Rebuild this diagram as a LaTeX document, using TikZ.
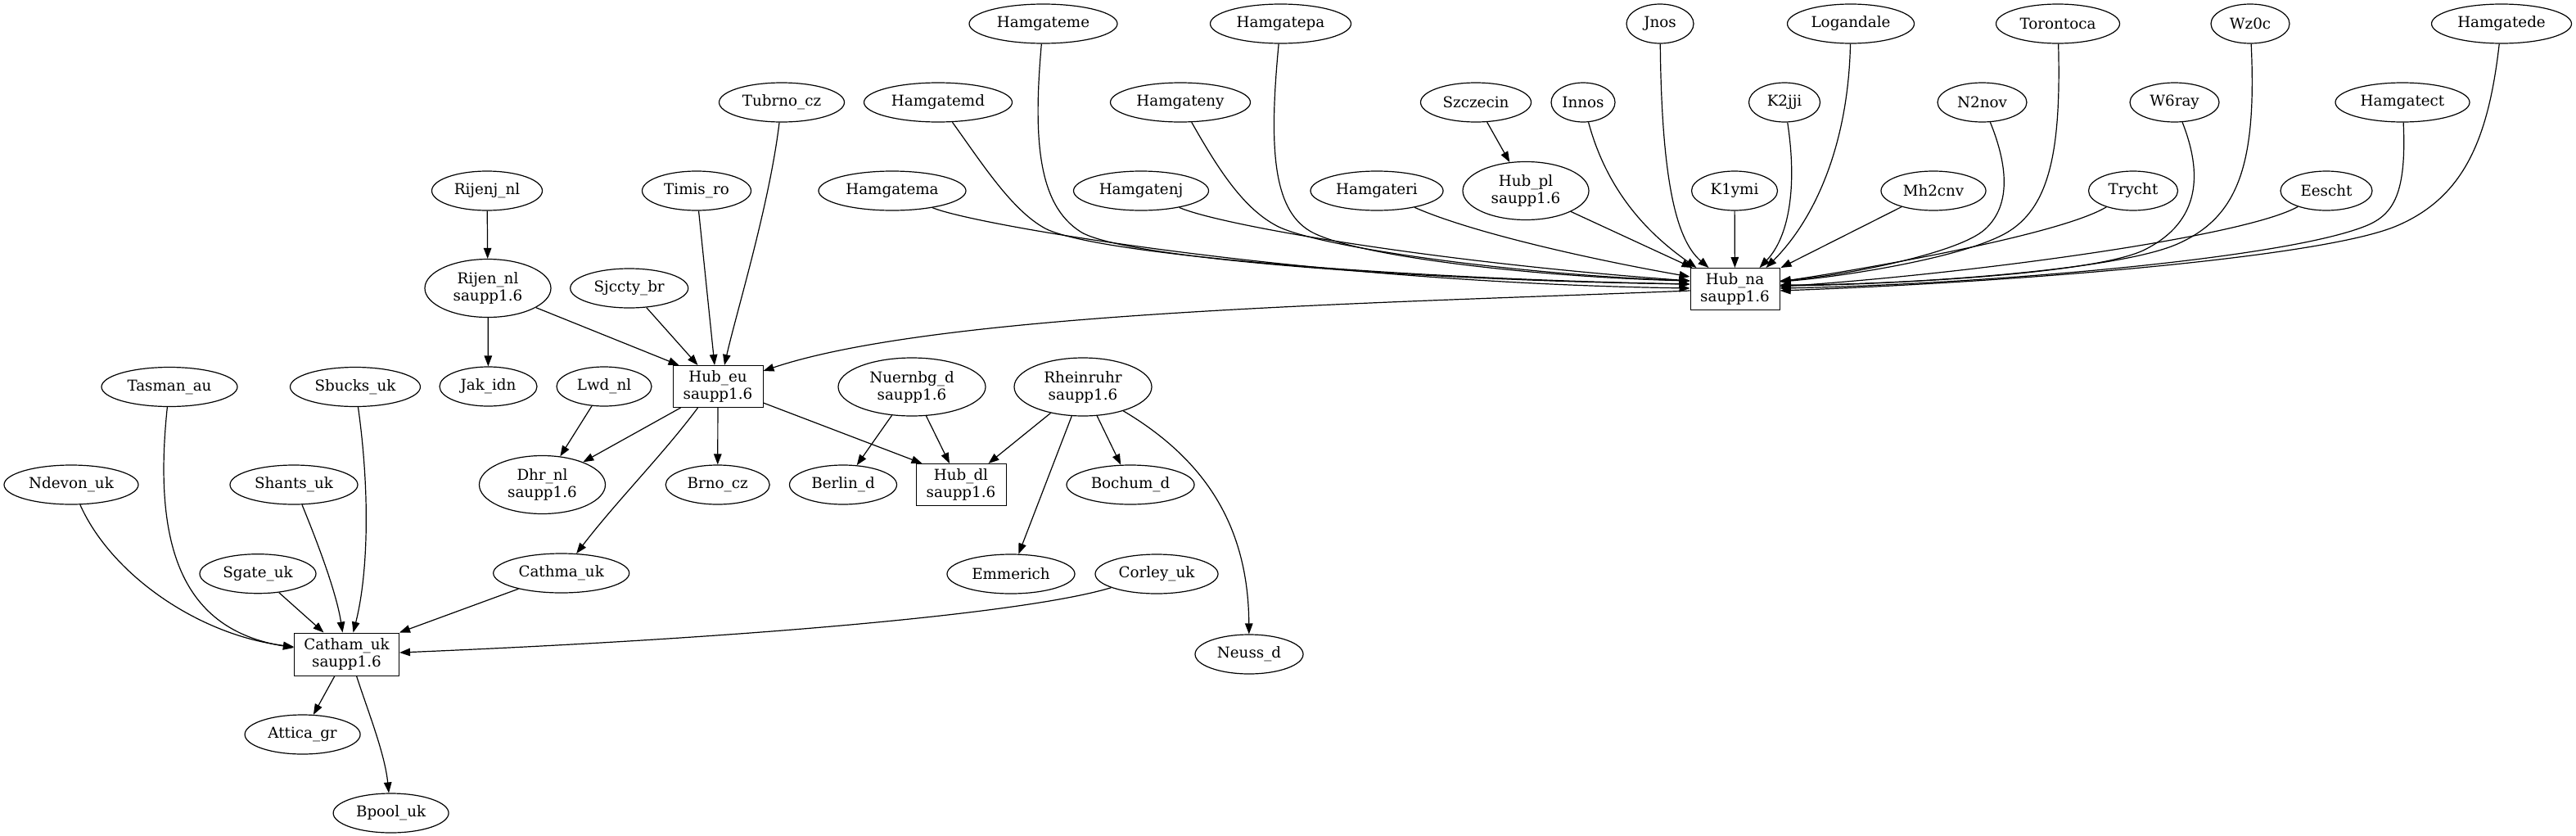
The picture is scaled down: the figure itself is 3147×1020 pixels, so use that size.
\documentclass[tikz,border=0pt]{standalone}
\usepackage{fontspec}
\setmainfont{DejaVu Serif}
\usetikzlibrary{shapes.geometric,arrows.meta,calc}
\begin{document}
\begin{tikzpicture}[x=1pt,y=-1pt,
  every node/.style={font=\fontsize{18.3}{21}\selectfont},
  el/.style={ellipse,draw,line width=1.2pt,inner sep=0pt,minimum height=48pt,minimum width=#1,align=center},
  el2/.style={ellipse,draw,line width=1.2pt,inner sep=0pt,minimum height=71pt,minimum width=#1,align=center},
  bx/.style={rectangle,draw=black,line width=1pt,inner sep=0pt,minimum height=51pt,minimum width=#1,align=center},
  edge/.style={line width=1.2pt,-{Triangle[length=13pt,width=9.5pt]}},
]
\fill[white] (0,0) rectangle (3147,1020);
\useasboundingbox (0,0) rectangle (3147,1020);

% nodes
\node[el=181pt] (hme) at (1274.5,29) {Hamgateme};
\node[el=172pt] (hpa) at (1564.5,29) {Hamgatepa};
\node[el=82pt] (jnos) at (2028,29) {Jnos};
\node[el=155pt] (loga) at (2261,29) {Logandale};
\node[el=151pt] (toro) at (2514,29) {Torontoca};
\node[el=96pt] (wz0c) at (2749,29) {Wz0c};
\node[el=171pt] (hde) at (3056,29) {Hamgatede};

\node[el=153pt] (tub) at (955,125) {Tubrno\_cz};
\node[el=181pt] (hmd) at (1146,125) {Hamgatemd};
\node[el=171pt] (hny) at (1442,125) {Hamgateny};
\node[el=135pt] (szc) at (1803,125) {Szczecin};
\node[el=78pt] (innos) at (1934,125) {Innos};
\node[el=87pt] (k2) at (2180,125) {K2jji};
\node[el=109pt] (n2) at (2421.5,125) {N2nov};
\node[el=109pt] (w6) at (2656.5,125) {W6ray};
\node[el=164pt] (hct) at (2935,125) {Hamgatect};

\node[el=135pt] (rijenj) at (595,233) {Rijenj\_nl};
\node[el=133pt] (timis) at (851,233) {Timis\_ro};
\node[el=180pt] (hma) at (1090,233) {Hamgatema};
\node[el=165pt] (hnj) at (1394,233) {Hamgatenj};
\node[el=162pt] (hri) at (1682,233) {Hamgateri};
\node[el2=154pt] (hubpl) at (1864,233) {Hub\_pl\\saupp1.6};
\node[el=105pt] (k1) at (2119,233) {K1ymi};
\node[el=128pt] (mh2) at (2362,233) {Mh2cnv};
\node[el=109pt] (tryc) at (2606,233) {Trycht};
\node[el=112pt] (eesc) at (2842,233) {Eescht};

\node[el2=154pt] (rijen) at (596,352) {Rijen\_nl\\saupp1.6};
\node[el=144pt] (sjc) at (768.7,352) {Sjccty\_br};
\node[bx=109pt] (hubna) at (2119.5,353) {Hub\_na\\saupp1.6};

\node[el=166pt] (tas) at (207,472.5) {Tasman\_au};
\node[el=159pt] (sbu) at (434,472.5) {Sbucks\_uk};
\node[el=119pt] (jak) at (596.5,472) {Jak\_idn};
\node[el=116pt] (lwd) at (738,472) {Lwd\_nl};
\node[bx=110pt] (hubeu) at (877,472) {Hub\_eu\\saupp1.6};
\node[el2=180pt] (nue) at (1114,472.5) {Nuernbg\_d\\saupp1.6};
\node[el2=168pt] (rhe) at (1323,472.5) {Rheinruhr\\saupp1.6};

\node[el=164pt] (ndev) at (87,592) {Ndevon\_uk};
\node[el=156pt] (shan) at (359,592) {Shants\_uk};
\node[el2=154pt] (dhr) at (662.5,592) {Dhr\_nl\\saupp1.6};
\node[el=127pt] (brno) at (876.7,592) {Brno\_cz};
\node[el=131pt] (berl) at (1030,592) {Berlin\_d};
\node[bx=110pt] (hubdl) at (1174,592) {Hub\_dl\\saupp1.6};
\node[el=156pt] (boch) at (1381,592) {Bochum\_d};

\node[el=142pt] (sgate) at (315,700.7) {Sgate\_uk};
\node[el=166pt] (cathma) at (685.7,700) {Cathma\_uk};
\node[el=156pt] (emm) at (1235,701) {Emmerich};
\node[el=150pt] (corl) at (1413,701) {Corley\_uk};

\node[bx=128pt,minimum height=52pt] (catham) at (423.5,799) {Catham\_uk\\saupp1.6};
\node[el=132pt] (neuss) at (1526,799) {Neuss\_d};
\node[el=141pt] (attica) at (369.6,897) {Attica\_gr};
\node[el=141pt] (bpool) at (477.6,993) {Bpool\_uk};

% edges into Hub_na, left side
\draw[edge] (hma) .. controls (1190,275) and (1600,345) .. ($(hubna.west)+(0,-1)$);
\draw[edge] (hmd) .. controls (1200,200) and (1235,255) .. (1275,278) .. controls (1330,310) and (1700,340) .. ($(hubna.west)+(0,-6)$);
\draw[edge] (hme) .. controls (1262,170) and (1268,250) .. (1320,283) .. controls (1370,315) and (1720,342) .. ($(hubna.west)+(0,-6)$);
\draw[edge] (hny) .. controls (1490,210) and (1520,255) .. (1560,276) .. controls (1610,302) and (1850,335) .. ($(hubna.west)+(0,-10)$);
\draw[edge] (hpa) .. controls (1550,180) and (1555,255) .. (1600,282) .. controls (1650,312) and (1870,338) .. ($(hubna.west)+(0,-10)$);
\draw[edge] (hnj) .. controls (1490,275) and (1750,320) .. ($(hubna.west)+(0,-10)$);
\draw[edge] (hri) .. controls (1800,285) and (1950,318) .. ($(hubna.west)+(0,-15)$);
% top side
\draw[edge] (szc) -- (hubpl);
\draw[edge] (hubpl) -- ($(hubna.north west)+(3,0)$);
\draw[edge] (innos) .. controls (1965,240) and (2020,290) .. ($(hubna.north west)+(8,0)$);
\draw[edge] (jnos) .. controls (2030,230) and (2050,295) .. ($(hubna.north west)+(23,0)$);
\draw[edge] (k1) -- (hubna);
\draw[edge] (k2) .. controls (2196,230) and (2185,290) .. ($(hubna.north west)+(85,0)$);
\draw[edge] (loga) .. controls (2258,180) and (2215,270) .. ($(hubna.north west)+(93,0)$);
\draw[edge] (mh2) -- ($(hubna.north east)+(1,0)$);
% right side
\draw[edge] (n2) .. controls (2452,200) and (2458,250) .. (2425,280) .. controls (2392,310) and (2250,337) .. ($(hubna.east)+(0,-10)$);
\draw[edge] (toro) .. controls (2518,180) and (2505,250) .. (2455,282) .. controls (2405,314) and (2250,338) .. ($(hubna.east)+(0,-9)$);
\draw[edge] (tryc) .. controls (2520,285) and (2300,325) .. ($(hubna.east)+(0,-9)$);
\draw[edge] (w6) .. controls (2690,210) and (2690,270) .. (2620,305) .. controls (2560,335) and (2300,348) .. ($(hubna.east)+(0,-5)$);
\draw[edge] (wz0c) .. controls (2757,200) and (2735,265) .. (2660,298) .. controls (2580,333) and (2300,348) .. ($(hubna.east)+(0,-4)$);
\draw[edge] (eesc) .. controls (2740,290) and (2400,335) .. ($(hubna.east)+(0,-3)$);
\draw[edge] (hct) .. controls (2940,235) and (2925,262) .. (2890,276) .. controls (2785,318) and (2400,348) .. ($(hubna.east)+(0,-1)$);
\draw[edge] (hde) .. controls (3040,170) and (3010,240) .. (2930,275) .. controls (2840,315) and (2450,345) .. ($(hubna.east)+(0,2)$);

% Hub_na -> Hub_eu
\draw[edge] ($(hubna.west)+(0,2)$) .. controls (1700,370) and (1150,380) .. ($(hubeu.east)+(0,-19)$);

% into Hub_eu
\draw[edge] (rijen) -- ($(hubeu.north west)+(8,0)$);
\draw[edge] (sjc) -- ($(hubeu.north west)+(31,0)$);
\draw[edge] (timis) -- ($(hubeu.north)+(-4,0)$);
\draw[edge] (tub) .. controls (940,250) and (900,380) .. ($(hubeu.north)+(8,0)$);
\draw[edge] (rijenj) -- (rijen);
\draw[edge] (rijen) -- (jak);

% out of Hub_eu etc.
\draw[edge] ($(hubeu.south west)+(10,0)$) -- (dhr);
\draw[edge] (lwd) -- (dhr);
\draw[edge] ($(hubeu.south west)+(31,0)$) .. controls (810,555) and (755,610) .. (cathma);
\draw[edge] (hubeu) -- (brno);
\draw[edge] ($(hubeu.east)+(0,20)$) -- ($(hubdl.north west)+(8,0)$);
\draw[edge] (nue) -- (berl);
\draw[edge] (nue) -- ($(hubdl.north)+(-14,0)$);
\draw[edge] (rhe) -- ($(hubdl.north east)+(-22,0)$);
\draw[edge] (rhe) -- (boch);
\draw[edge] (rhe) -- (emm);
\draw[edge] (rhe) .. controls (1470,560) and (1525,640) .. (neuss);

% into Catham_uk
\draw[edge] (ndev) .. controls (135,700) and (240,775) .. ($(catham.west)+(0,-9)$);
\draw[edge] (tas) .. controls (185,680) and (230,770) .. ($(catham.west)+(0,-8)$);
\draw[edge] (sbu) .. controls (452,600) and (450,700) .. ($(catham.north)+(8,0)$);
\draw[edge] (shan) .. controls (395,680) and (412,730) .. ($(catham.north)+(-5,0)$);
\draw[edge] (sgate) -- ($(catham.north)+(-28,0)$);
\draw[edge] (cathma) -- (catham.north east);
\draw[edge] (corl) .. controls (1250,750) and (900,780) .. ($(catham.east)+(0,-2)$);
\draw[edge] (catham) -- (attica);
\draw[edge] ($(catham.south)+(12,0)$) .. controls (450,870) and (470,920) .. (bpool);
\end{tikzpicture}
\end{document}
